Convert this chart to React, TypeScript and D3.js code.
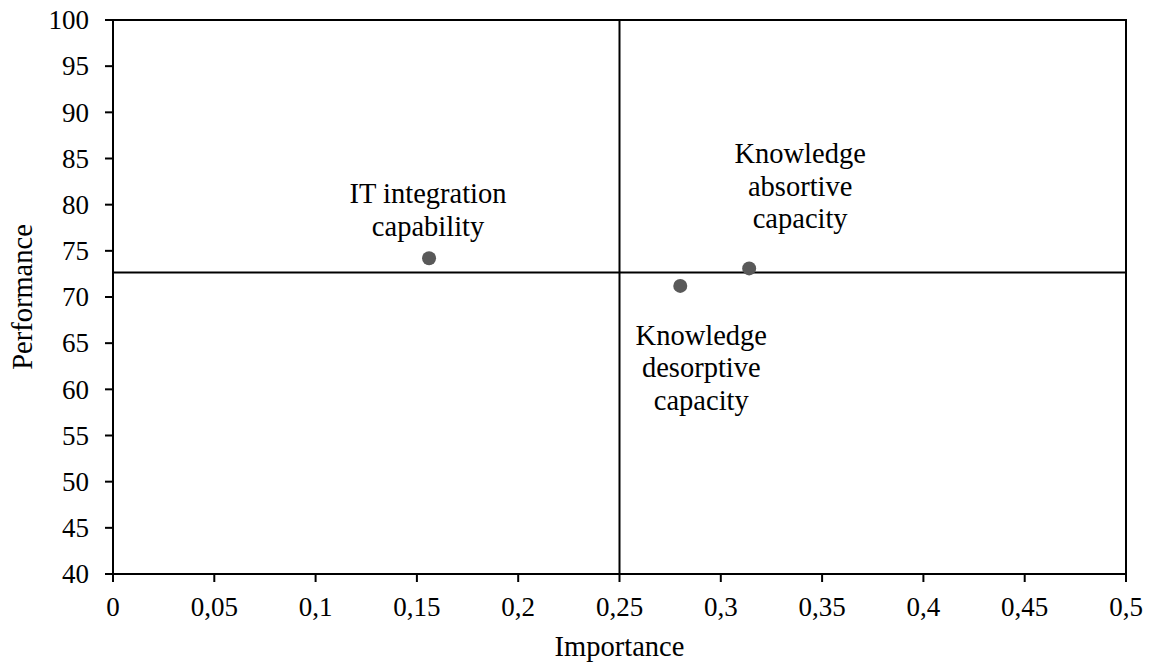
import React from "react";
import * as d3 from "d3";

const labels = ["IT integration capability", "Knowledge desorptive capacity", "Knowledge absortive capacity"];
const importance = [0.156, 0.28, 0.314];
const performance = [74.2, 71.2, 73.1];
const labelLines = [["IT integration", "capability"], ["Knowledge", "desorptive", "capacity"], ["Knowledge", "absortive", "capacity"]];
const xTicks = [0, 0.05, 0.1, 0.15, 0.2, 0.25, 0.3, 0.35, 0.4, 0.45, 0.5];
const yTicks = [40, 45, 50, 55, 60, 65, 70, 75, 80, 85, 90, 95, 100];
const meanImportance = 0.25;
const meanPerformance = 72.65;

const W = 1154, H = 668;
const M = { left: 113, right: 1126, top: 20, bottom: 574 };
const FONT = "'Liberation Serif', 'Times New Roman', serif";

export default function App() {
  const x = d3.scaleLinear().domain([0, 0.5]).range([M.left, M.right]);
  const y = d3.scaleLinear().domain([40, 100]).range([M.bottom, M.top]);
  const fmt = (v: number) => String(+v.toFixed(2)).replace(".", ",");
  const offsets = [
    { dx: -1, dy: -55 },
    { dx: 21, dy: 59 },
    { dx: 51, dy: -105 },
  ];
  return (
    <svg width={W} height={H} style={{ position: "absolute", left: 0, top: 0, background: "#fff" }}>
      <g fontFamily={FONT} fill="#000">
        <rect x={M.left} y={M.top} width={M.right - M.left} height={M.bottom - M.top} fill="none" stroke="#000" strokeWidth={2} />
        {yTicks.map((t) => (
          <g key={"y" + t}>
            <line x1={M.left - 8} x2={M.left} y1={y(t)} y2={y(t)} stroke="#000" strokeWidth={2} />
            <text x={89} y={y(t)} dy="0.34em" textAnchor="end" fontSize={27}>{t}</text>
          </g>
        ))}
        {xTicks.map((t) => (
          <g key={"x" + t}>
            <line x1={x(t)} x2={x(t)} y1={M.bottom} y2={M.bottom + 8} stroke="#000" strokeWidth={2} />
            <text x={x(t)} y={616} textAnchor="middle" fontSize={27}>{fmt(t)}</text>
          </g>
        ))}
        <line x1={x(meanImportance)} x2={x(meanImportance)} y1={M.top} y2={M.bottom} stroke="#000" strokeWidth={2} />
        <line x1={M.left} x2={M.right} y1={y(meanPerformance)} y2={y(meanPerformance)} stroke="#000" strokeWidth={2} />
        {importance.map((v, i) => (
          <circle key={"p" + i} cx={x(v)} cy={y(performance[i])} r={7} fill="#595959" />
        ))}
        {labelLines.map((lines, i) => (
          <text key={"l" + i} textAnchor="middle" fontSize={28.5} aria-label={labels[i]}>
            {lines.map((ln, j) => (
              <tspan key={j} x={x(importance[i]) + offsets[i].dx} y={y(performance[i]) + offsets[i].dy + j * 32.5}>{ln}</tspan>
            ))}
          </text>
        ))}
        <text x={(M.left + M.right) / 2} y={656} textAnchor="middle" fontSize={28.5}>Importance</text>
        <text transform={`translate(32, ${(M.top + M.bottom) / 2}) rotate(-90)`} textAnchor="middle" fontSize={28.5}>Performance</text>
      </g>
    </svg>
  );
}
